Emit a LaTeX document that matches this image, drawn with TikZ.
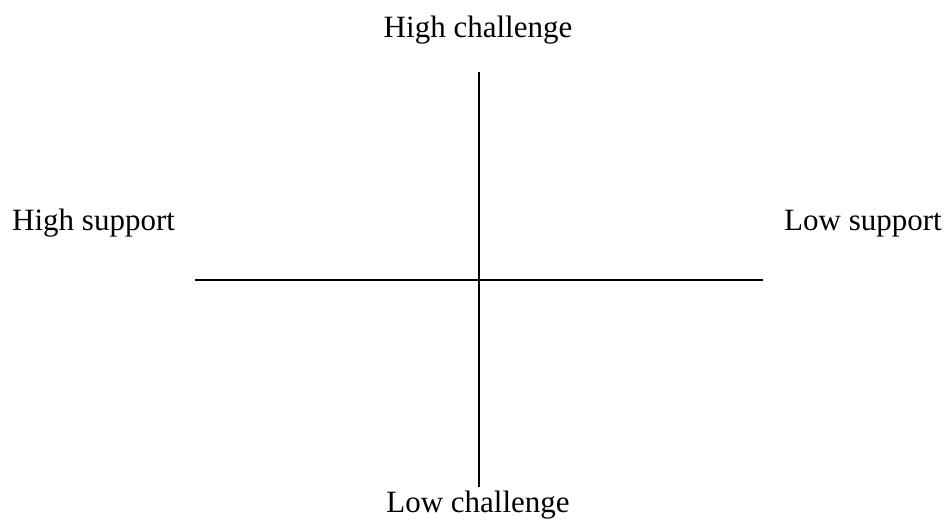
\documentclass[tikz,border=0pt]{standalone}
\usepackage{fontspec}
\setmainfont{Liberation Serif}
\begin{document}
\begin{tikzpicture}[x=1pt,y=-1pt,
  lbl/.style={inner sep=0pt,font=\fontsize{31}{36}\selectfont},
  axis/.style={line width=2pt}]
\useasboundingbox (0,0) rectangle (944,520);
\coordinate (top) at (479,72);
\coordinate (bot) at (479,487);
\coordinate (lft) at (195,280);
\coordinate (rgt) at (763,280);
\draw[axis] (top) -- (bot);
\draw[axis] (lft) -- (rgt);
\node[lbl,anchor=base] (hc) at (478,37) {High challenge};
\node[lbl,anchor=base] (lc) at (478,512) {Low challenge};
\node[lbl,anchor=base west] (hs) at (12,230) {High support};
\node[lbl,anchor=base east] (ls) at (942,230) {Low support};
\end{tikzpicture}
\end{document}
